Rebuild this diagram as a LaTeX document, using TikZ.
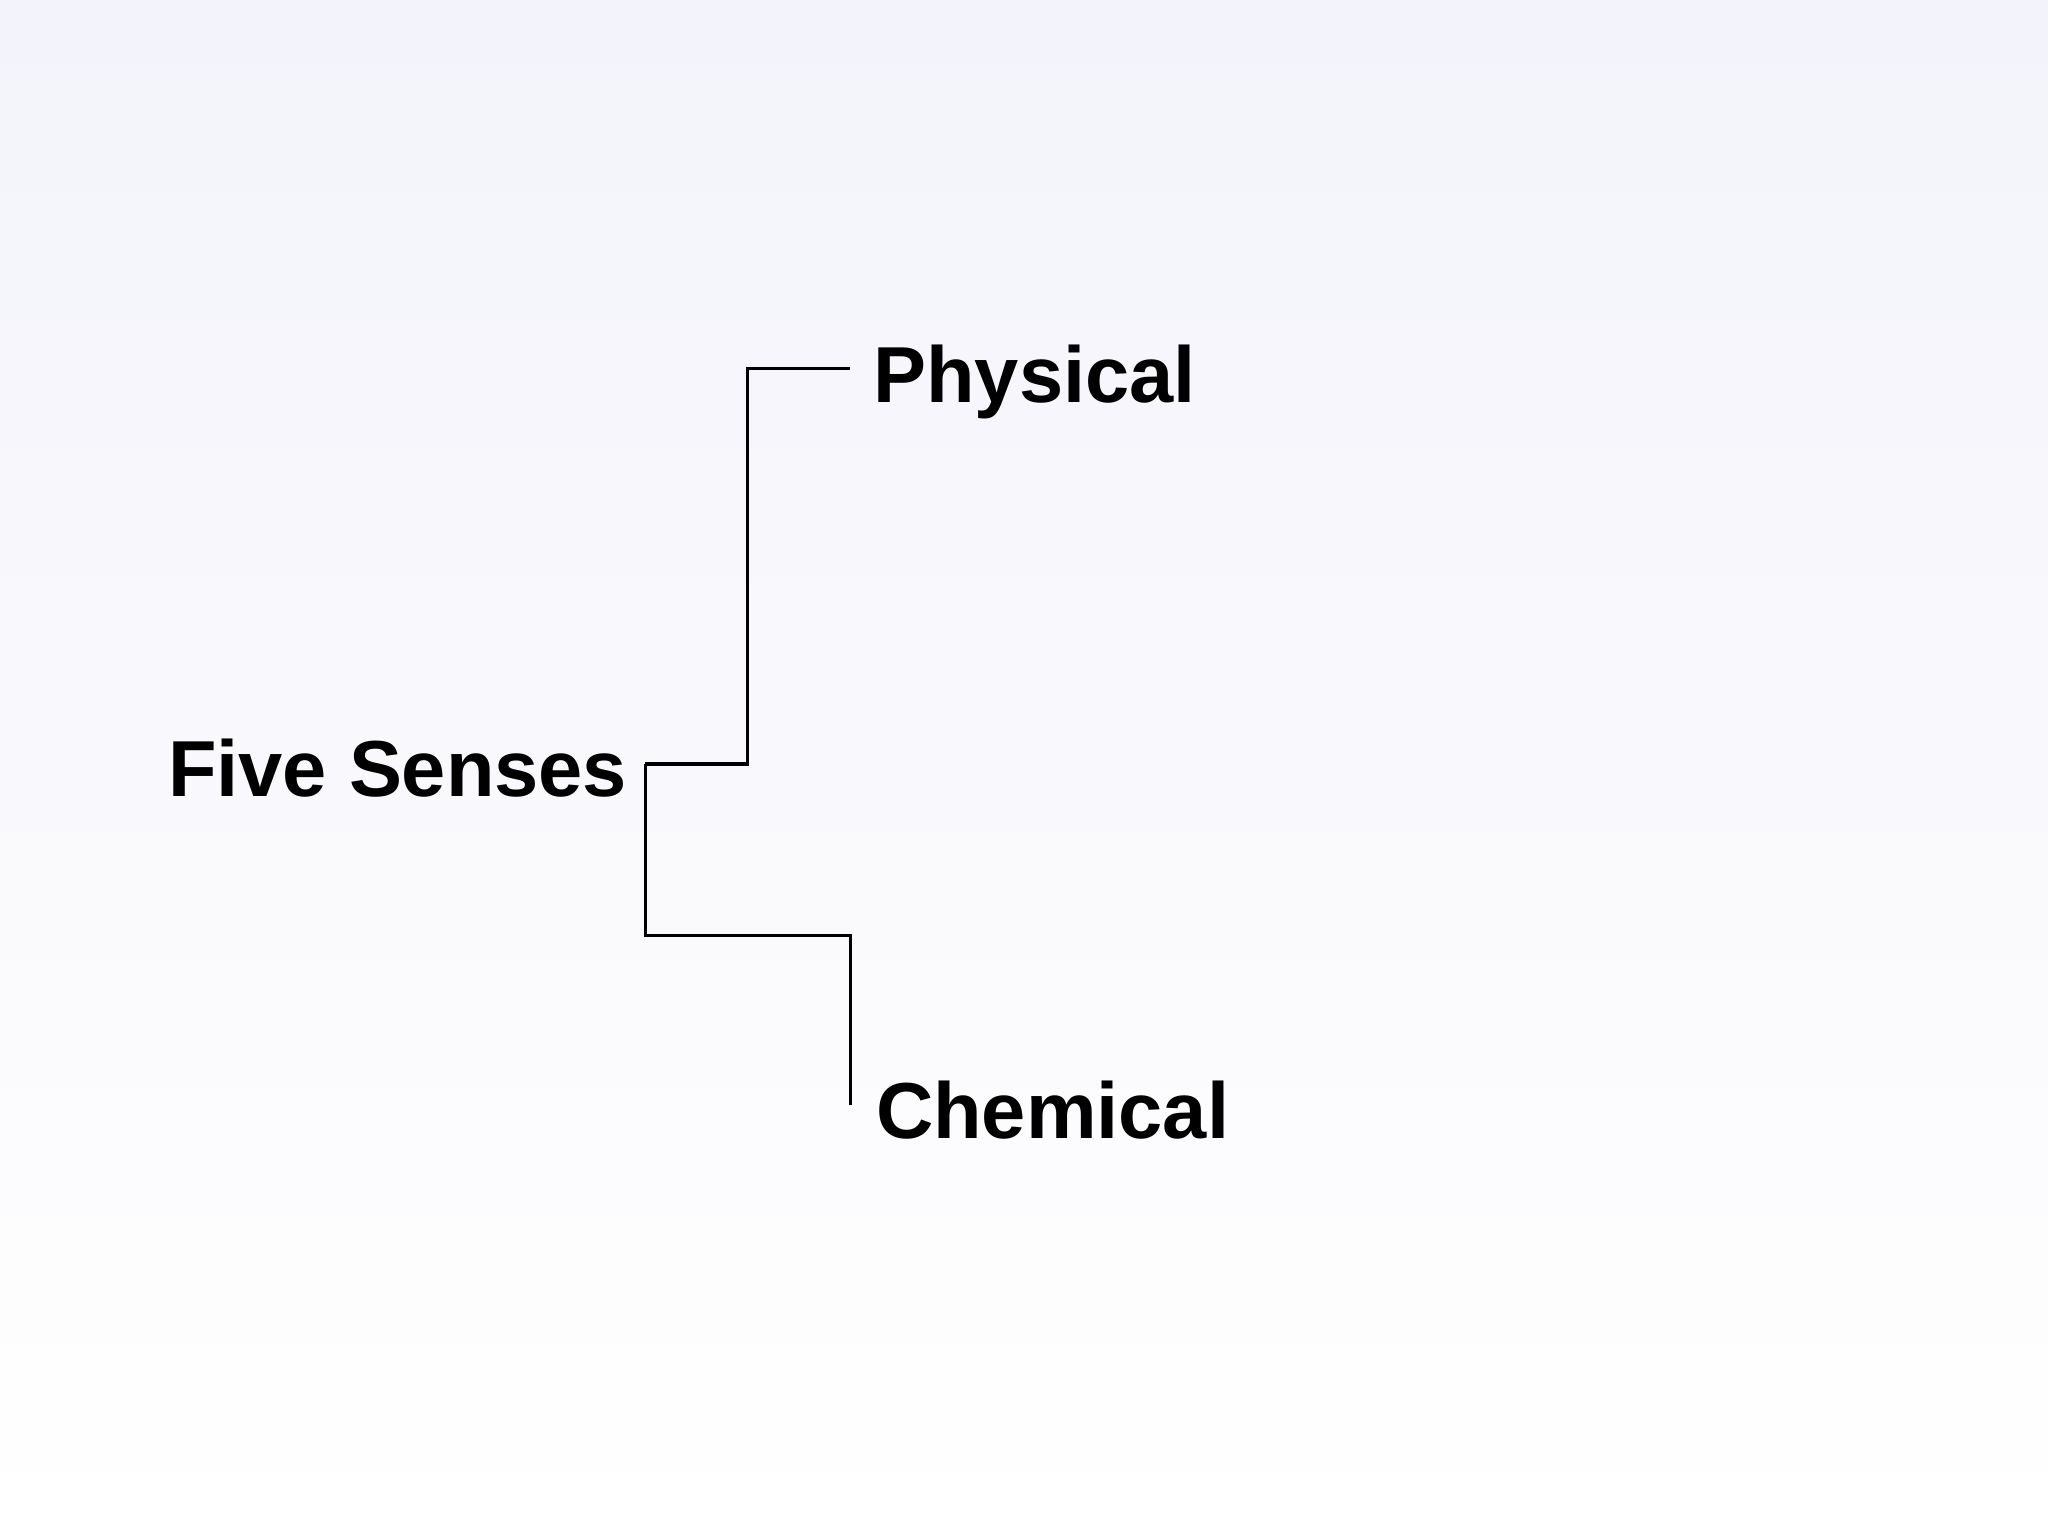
\documentclass[tikz,border=0pt]{standalone}
\usepackage{fontspec}
\setmainfont{Liberation Sans}
\begin{document}
\begin{tikzpicture}[x=1cm,y=1cm,
  lbl/.style={anchor=base west,inner sep=0pt,font=\fontsize{17.3}{20}\selectfont\bfseries},
  conn/.style={draw=black,line width=0.7pt}]
\shade[top color={rgb,255:red,243;green,243;blue,251},bottom color=white] (0,0) rectangle (15.68,11.76);
\useasboundingbox (0,0) rectangle (15.68,11.76);
\node[lbl] (five) at (1.28,5.66) {Five Senses};
\node[lbl] (phys) at (6.68,8.68) {Physical};
\node[lbl] (chem) at (6.70,3.04) {Chemical};
\coordinate (j) at (4.94,5.91);
\coordinate (pe) at (6.51,8.94);
\coordinate (ce) at (6.51,3.30);
\draw[conn] (j) -- (5.72,5.91) |- (pe);
\draw[conn] (j) |- (6.51,4.60) -- (ce);
\end{tikzpicture}
\end{document}
